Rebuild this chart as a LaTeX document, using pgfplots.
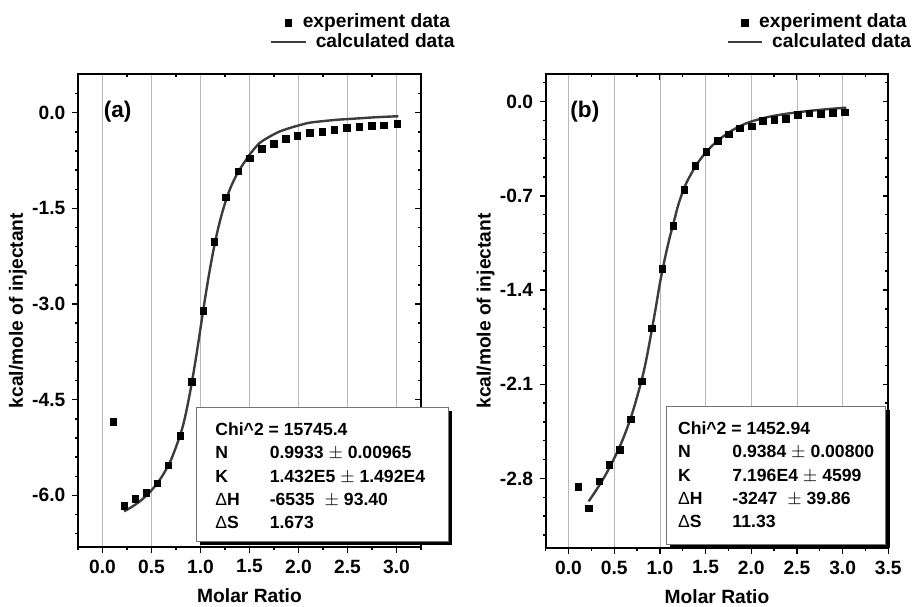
\documentclass[border=0pt]{standalone}
\usepackage{fontspec}
\setmainfont{Liberation Sans}
\usepackage{pgfplots}
\pgfplotsset{compat=1.18}
\definecolor{curvecol}{HTML}{3C3C3C}

\pgfplotstableread{
x y
0.112 -4.85
0.225 -6.17
0.337 -6.06
0.449 -5.96
0.561 -5.81
0.674 -5.53
0.796 -5.07
0.912 -4.22
1.028 -3.11
1.143 -2.03
1.262 -1.33
1.385 -0.92
1.504 -0.716
1.626 -0.57
1.749 -0.486
1.871 -0.413
1.990 -0.36
2.119 -0.32
2.242 -0.298
2.367 -0.27
2.494 -0.235
2.622 -0.224
2.749 -0.209
2.874 -0.198
3.010 -0.177
}\expA

\pgfplotstableread{
x y
0.22 -6.25
0.30 -6.18
0.40 -6.07
0.50 -5.92
0.60 -5.72
0.70 -5.44
0.80 -5.02
0.85 -4.72
0.90 -4.33
0.95 -3.88
1.00 -3.38
1.05 -2.88
1.10 -2.42
1.15 -2.02
1.20 -1.69
1.25 -1.42
1.30 -1.20
1.35 -1.03
1.40 -0.89
1.50 -0.66
1.60 -0.48
1.70 -0.38
1.80 -0.30
1.90 -0.245
2.00 -0.20
2.10 -0.16
2.20 -0.14
2.40 -0.11
2.60 -0.09
2.80 -0.07
3.02 -0.055
}\calA

\pgfplotstableread{
x y
0.109 -2.863
0.222 -3.024
0.336 -2.821
0.449 -2.700
0.565 -2.586
0.682 -2.360
0.802 -2.078
0.912 -1.684
1.028 -1.241
1.149 -0.924
1.269 -0.654
1.389 -0.476
1.510 -0.374
1.634 -0.292
1.754 -0.245
1.878 -0.198
2.006 -0.183
2.130 -0.143
2.254 -0.134
2.378 -0.129
2.513 -0.097
2.637 -0.089
2.760 -0.091
2.892 -0.086
3.027 -0.079
}\expB

\pgfplotstableread{
x y
0.22 -2.97
0.30 -2.89
0.40 -2.78
0.50 -2.65
0.60 -2.50
0.70 -2.31
0.80 -2.07
0.85 -1.92
0.90 -1.74
0.95 -1.55
1.00 -1.35
1.05 -1.18
1.10 -1.03
1.15 -0.90
1.20 -0.77
1.25 -0.67
1.30 -0.59
1.40 -0.47
1.50 -0.38
1.60 -0.31
1.70 -0.255
1.80 -0.21
1.90 -0.175
2.00 -0.148
2.20 -0.112
2.40 -0.089
2.60 -0.072
2.80 -0.058
3.04 -0.045
}\calB

\newcommand{\tlfont}{\fontsize{9.6}{11}\selectfont\bfseries}
\newcommand{\lbfont}{\fontsize{9.6}{11}\selectfont\bfseries}

\pgfplotsset{
  itcbase/.style={
    scale only axis,
    axis line style={line width=1pt},
    major tick length=2.8pt, minor tick length=1.6pt,
    every tick/.style={black, line width=0.7pt},
    xticklabel style={font=\tlfont},
    yticklabel style={font=\tlfont},
    /pgf/number format/assume math mode=true,
    /pgf/number format/fixed,
    /pgf/number format/fixed zerofill,
    /pgf/number format/precision=1,
    clip=false,
  },
  mirror/.style={
    xtick pos=right, ytick pos=right, tick align=inside,
    xticklabels={}, yticklabels={},
  },
  mainax/.style={
    xtick pos=left, ytick pos=left, tick align=outside,
    xmajorgrids, grid style={black!28, line width=0.4pt},
    xlabel={Molar Ratio}, ylabel={kcal/mole of injectant},
    every axis x label/.style={at={(rel axis cs:0.5,-0.103)}, anchor=center, font=\lbfont},
    every axis y label/.style={at={(rel axis cs:-0.175,0.5)}, anchor=center, rotate=90, font=\lbfont},
    reverse legend, legend cell align=left,
    legend style={draw=none, fill=none, anchor=east, inner sep=0pt, column sep=4.2pt,
      font=\lbfont,
      nodes={inner sep=0.3pt, text height=7pt, text depth=2pt}},
  },
  panelA/.style={
    width=171.5pt, height=236.5pt,
    at={(39pt,-273.5pt)}, anchor=south west,
    xmin=-0.25, xmax=3.25, ymin=-6.81, ymax=0.607,
    xtick={0,0.5,1,1.5,2,2.5,3},
    minor xtick={-0.25,0.25,0.75,1.25,1.75,2.25,2.75,3.25},
    ytick={-6,-4.5,-3,-1.5,0},
    minor ytick={-6.6,-6.3,-5.7,-5.4,-5.1,-4.8,-4.2,-3.9,-3.6,-3.3,-2.7,-2.4,-2.1,-1.8,-1.2,-0.9,-0.6,-0.3,0.3},
  },
  panelB/.style={
    width=171.3pt, height=237pt,
    at={(272.85pt,-274pt)}, anchor=south west,
    xmin=-0.25, xmax=3.5, ymin=-3.317, ymax=0.205,
    xtick={0,0.5,1,1.5,2,2.5,3,3.5},
    minor xtick={-0.25,0.25,0.75,1.25,1.75,2.25,2.75,3.25},
    ytick={-2.8,-2.1,-1.4,-0.7,0},
    minor ytick={-3.22,-3.08,-2.94,-2.66,-2.52,-2.38,-2.24,-1.96,-1.82,-1.68,-1.54,-1.26,-1.12,-0.98,-0.84,-0.56,-0.42,-0.28,-0.14,0.14},
  },
}

\newcommand{\fitbox}[5]{%
  \begin{tabular}[t]{@{}p{27.2pt}@{}l@{}}
  \multicolumn{2}{@{}l@{}}{Chi\textasciicircum 2 = #1}\\
  N & #2\\
  K & #3\\
  {\mdseries Δ}H & #4\\
  {\mdseries Δ}S & #5
  \end{tabular}}

\begin{document}
\begin{tikzpicture}
\useasboundingbox (0,0) rectangle (457pt,-303pt);

% ---------- panel (a) ----------
\begin{axis}[itcbase, panelA, mirror]
\end{axis}
\begin{axis}[itcbase, panelA, mainax,
  legend style={at={(1.1006,1.0877)}}]
\addplot[curvecol, line width=1.2pt, smooth, no markers] table[x=x,y=y] {\calA};
\addlegendentry{calculated data}
\addplot[black, only marks, mark=square*, mark size=1.65pt] table[x=x,y=y] {\expA};
\addlegendentry{\hspace{-6.5pt}experiment data}
\node[anchor=west, font=\fontsize{11.3}{13}\selectfont\bfseries, inner sep=0pt] at (rel axis cs:0.074,0.92) {(a)};
\fill[black] ([shift={(1.8pt,-1.8pt)}]rel axis cs:0.346,0.295) rectangle ([shift={(1.8pt,-1.8pt)}]rel axis cs:1.080,0.011);
\filldraw[fill=white, draw=black!55, line width=0.5pt] (rel axis cs:0.346,0.295) rectangle (rel axis cs:1.080,0.011);
\node[anchor=base west, inner sep=0pt, font=\fontsize{8.8}{11.7}\selectfont\bfseries] at (rel axis cs:0.3994,0.236)
  {\fitbox{15745.4}{0.9933 $\pm$ 0.00965}{1.432E5 $\pm$ 1.492E4}{-6535\hspace{2.5pt} $\pm$ 93.40}{1.673}};
\end{axis}

% ---------- panel (b) ----------
\begin{axis}[itcbase, panelB, mirror]
\end{axis}
\begin{axis}[itcbase, panelB, mainax,
  legend style={at={(1.069,1.0876)}}]
\addplot[curvecol, line width=1.2pt, smooth, no markers] table[x=x,y=y] {\calB};
\addlegendentry{calculated data}
\addplot[black, only marks, mark=square*, mark size=1.65pt] table[x=x,y=y] {\expB};
\addlegendentry{\hspace{-6.5pt}experiment data}
\node[anchor=west, font=\fontsize{11.3}{13}\selectfont\bfseries, inner sep=0pt] at (rel axis cs:0.071,0.92) {(b)};
\fill[black] ([shift={(1.8pt,-1.8pt)}]rel axis cs:0.353,0.298) rectangle ([shift={(1.8pt,-1.8pt)}]rel axis cs:0.993,0.0084);
\filldraw[fill=white, draw=black!55, line width=0.5pt] (rel axis cs:0.353,0.298) rectangle (rel axis cs:0.993,0.0084);
\node[anchor=base west, inner sep=0pt, font=\fontsize{8.8}{11.7}\selectfont\bfseries] at (rel axis cs:0.3853,0.2397)
  {\fitbox{1452.94}{0.9384 $\pm$ 0.00800}{7.196E4 $\pm$ 4599}{-3247\hspace{2.5pt} $\pm$ 39.86}{11.33}};
\end{axis}
\end{tikzpicture}
\end{document}
